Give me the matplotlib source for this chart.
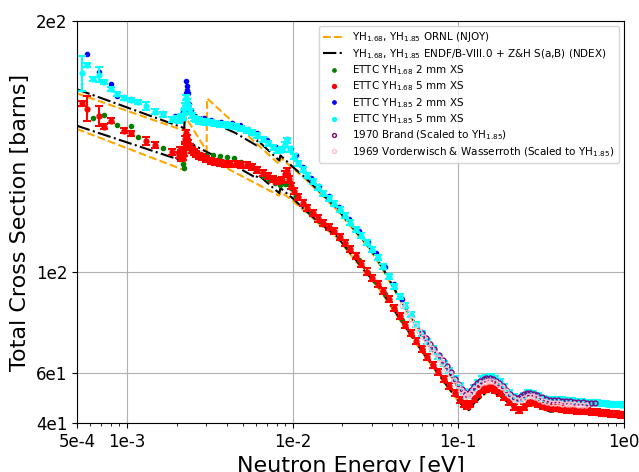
import matplotlib
matplotlib.use("Agg")
import matplotlib.pyplot as plt

# ---------------- data ----------------
ornl185_E = [5e-4, 2.23e-3, 2.26e-3, 3.03e-3, 3.05e-3, 8.3e-3, 8.5e-3, 1.0e-2, 1.2e-2, 1.46e-2,
             1.84e-2, 2.43e-2, 2.93e-2, 3.51e-2, 4.44e-2, 5.1e-2, 6.75e-2, 8.5e-2, 1.0e-1, 1.12e-1,
             1.25e-1, 1.55e-1, 1.85e-1, 2.3e-1, 2.7e-1, 3.4e-1, 4.5e-1, 6.5e-1, 1.0]
ornl185_S = [171.2, 156.3, 161.8, 148.3, 169.2, 143.0, 145.5, 141.5, 137.0, 131.5,
             125.0, 115.5, 109.0, 101.0, 89.0, 82.5, 70.5, 61.0, 54.0, 49.5,
             54.0, 57.5, 54.5, 48.8, 51.7, 48.6, 48.6, 47.8, 46.8]

ornl168_E = [5e-4, 2.23e-3, 2.26e-3, 4.4e-3, 8.3e-3, 8.5e-3, 1.0e-2, 1.2e-2, 1.46e-2, 1.84e-2,
             2.65e-2, 3.36e-2, 4.44e-2, 5.86e-2, 8.5e-2, 1.02e-1, 1.14e-1, 1.25e-1, 1.55e-1, 1.85e-1,
             2.35e-1, 2.7e-1, 3.6e-1, 4.5e-1, 6.5e-1, 1.0]
ornl168_S = [157.0, 140.6, 150.5, 140.0, 130.5, 132.0, 128.5, 124.0, 119.0, 114.0,
             101.0, 93.0, 81.0, 69.5, 54.8, 48.0, 44.8, 47.8, 53.2, 49.8,
             44.8, 47.3, 44.6, 44.9, 44.0, 42.9]

endf185_E = [5e-4, 2.09e-3, 2.22e-3, 2.24e-3, 3.0e-3, 4.5e-3, 6.05e-3, 6.15e-3, 8.3e-3, 8.45e-3,
             1.0e-2, 1.2e-2, 1.46e-2, 1.84e-2, 2.43e-2, 2.93e-2, 3.51e-2, 4.44e-2, 5.1e-2, 6.75e-2,
             8.5e-2, 1.0e-1, 1.12e-1, 1.25e-1, 1.55e-1, 1.85e-1, 2.3e-1, 2.7e-1, 3.4e-1, 4.5e-1,
             6.5e-1, 1.0]
endf185_S = [172.8, 158.0, 157.3, 164.5, 160.8, 155.5, 150.5, 152.5, 144.5, 146.5,
             142.0, 137.5, 132.0, 125.5, 116.0, 109.5, 101.5, 89.5, 83.0, 71.0,
             61.5, 54.5, 50.0, 54.5, 58.0, 54.8, 49.0, 52.0, 48.8, 48.8,
             47.9, 47.0]

endf168_E = [5e-4, 2.09e-3, 2.22e-3, 2.24e-3, 2.87e-3, 4.59e-3, 6.05e-3, 6.15e-3, 8.3e-3, 8.45e-3,
             1.0e-2, 1.2e-2, 1.46e-2, 1.84e-2, 2.65e-2, 3.36e-2, 4.44e-2, 5.86e-2, 8.5e-2, 1.02e-1,
             1.14e-1, 1.25e-1, 1.55e-1, 1.85e-1, 2.35e-1, 2.7e-1, 3.6e-1, 4.5e-1, 6.5e-1, 1.0]
endf168_S = [158.3, 144.7, 144.2, 152.6, 148.7, 142.0, 137.5, 139.0, 131.5, 133.5,
             129.5, 124.5, 119.5, 114.5, 101.5, 93.5, 81.5, 69.8, 55.0, 48.2,
             44.6, 48.0, 53.5, 50.0, 44.3, 47.5, 44.5, 45.0, 44.2, 43.0]

# ETTC YH1.68 2 mm
g2_E = [6.26e-4, 7.3e-4, 8.67e-4, 9.59e-4, 1.06e-3, 1.17e-3, 1.66e-3, 2.05e-3, 2.1e-3, 2.15e-3,
        2.19e-3, 2.21e-3, 2.24e-3, 2.27e-3, 2.30e-3, 2.34e-3, 2.4e-3, 2.5e-3, 2.65e-3, 2.8e-3,
        3.0e-3, 3.3e-3, 3.64e-3, 4.0e-3, 4.4e-3, 4.9e-3, 5.4e-3, 6.0e-3, 6.6e-3, 7.2e-3,
        7.8e-3, 8.4e-3, 9.0e-3, 9.4e-3, 9.8e-3, 1.05e-2, 1.15e-2, 1.3e-2, 1.46e-2, 1.65e-2,
        1.9e-2, 2.2e-2, 2.5e-2, 2.85e-2, 3.2e-2, 3.6e-2, 4.1e-2, 4.6e-2, 5.2e-2, 6.0e-2,
        7.0e-2, 8.15e-2, 9.5e-2, 1.08e-1, 1.13e-1, 1.24e-1, 1.39e-1, 1.57e-1, 1.78e-1, 2.03e-1,
        2.32e-1, 2.65e-1, 3.03e-1, 3.47e-1, 4.25e-1, 5.21e-1, 6.39e-1, 7.83e-1, 9.6e-1]
g2_S = [161.5, 162.6, 158.6, 156.8, 158.3, 154.0, 149.3, 147.0, 145.0, 147.8,
        143.0, 141.5, 149.0, 152.8, 151.0, 150.0, 149.2, 148.5, 147.8, 147.2,
        146.8, 146.5, 146.4, 146.0, 145.5, 144.0, 142.5, 140.6, 138.5, 136.8,
        135.5, 134.7, 135.0, 135.2, 133.5, 130.5, 127.2, 123.5, 120.5, 117.6,
        113.8, 109.5, 105.0, 99.8, 96.2, 91.5, 85.5, 80.8, 75.5, 69.3,
        63.0, 57.3, 51.7, 47.6, 47.0, 49.8, 53.3, 54.0, 52.2, 48.4,
        45.6, 48.0, 47.8, 46.6, 46.0, 45.3, 44.9, 44.5, 44.1]

# ETTC YH1.68 5 mm
r5_E = [5.33e-4, 5.75e-4, 6.78e-4, 7.3e-4, 7.97e-4, 9.59e-4, 1.06e-3, 1.30e-3, 1.48e-3, 1.86e-3,
        2.06e-3, 2.09e-3, 2.11e-3, 2.13e-3, 2.15e-3, 2.17e-3, 2.19e-3, 2.21e-3, 2.23e-3, 2.25e-3,
        2.28e-3, 2.31e-3, 2.35e-3, 2.40e-3, 2.46e-3, 2.53e-3, 2.62e-3, 2.72e-3, 2.85e-3, 3.0e-3,
        3.2e-3, 3.4e-3, 3.65e-3, 3.9e-3, 4.2e-3, 4.55e-3, 4.9e-3, 5.3e-3, 5.7e-3, 6.1e-3,
        6.6e-3, 7.1e-3, 7.6e-3, 8.1e-3, 8.6e-3, 9.0e-3, 9.2e-3, 9.5e-3, 9.8e-3, 1.02e-2,
        1.08e-2, 1.15e-2, 1.23e-2, 1.32e-2, 1.42e-2, 1.53e-2, 1.65e-2, 1.78e-2, 1.92e-2, 2.07e-2,
        2.23e-2, 2.41e-2, 2.6e-2, 2.8e-2, 3.02e-2, 3.26e-2, 3.52e-2, 3.8e-2, 4.1e-2, 4.43e-2,
        4.78e-2, 5.16e-2, 5.57e-2, 6.0e-2, 6.5e-2, 7.0e-2, 7.55e-2, 8.15e-2, 8.8e-2, 9.5e-2,
        1.02e-1, 1.08e-1, 1.13e-1, 1.18e-1, 1.24e-1, 1.31e-1, 1.39e-1, 1.48e-1, 1.57e-1, 1.67e-1,
        1.78e-1, 1.9e-1, 2.03e-1, 2.17e-1, 2.32e-1, 2.48e-1, 2.65e-1, 2.83e-1, 3.03e-1, 3.24e-1,
        3.47e-1, 3.71e-1, 3.97e-1, 4.25e-1, 4.55e-1, 4.87e-1, 5.21e-1, 5.58e-1, 5.97e-1, 6.39e-1,
        6.84e-1, 7.32e-1, 7.83e-1, 8.38e-1, 8.97e-1, 9.6e-1, 1.0]
r5_S = [167.2, 165.1, 162.2, 158.0, 160.3, 156.3, 155.3, 152.2, 150.6, 148.0,
        146.5, 148.5, 145.5, 147.5, 146.0, 148.8, 145.8, 147.5, 150.0, 153.0,
        155.3, 153.5, 151.5, 150.0, 148.8, 147.8, 147.0, 146.4, 145.8, 145.0,
        144.4, 143.8, 143.3, 143.1, 143.0, 142.9, 142.8, 142.6, 141.8, 140.8,
        139.5, 138.4, 137.2, 136.3, 136.8, 139.0, 140.2, 137.0, 134.2, 132.2,
        129.8, 127.6, 125.5, 123.4, 121.4, 119.7, 118.0, 116.3, 114.2, 111.8,
        109.2, 106.4, 103.2, 100.3, 97.7, 95.2, 92.5, 89.3, 85.8, 82.4,
        79.2, 76.0, 72.6, 69.5, 66.2, 63.2, 60.2, 57.5, 54.8, 51.8,
        49.2, 47.5, 46.8, 47.6, 49.5, 51.5, 53.0, 53.7, 53.8, 53.2,
        52.0, 50.3, 48.2, 46.2, 45.2, 46.2, 47.8, 48.2, 47.5, 46.8,
        46.3, 46.0, 45.9, 45.6, 45.2, 45.0, 44.9, 44.8, 44.7, 44.5,
        44.3, 44.1, 43.9, 43.7, 43.5, 43.3, 43.2]
r5_err = [1.0, 5.0, 4.0, 1.0, 1.0, 1.0, 1.0, 1.5] + [1.2] * (len(r5_S) - 8)

# ETTC YH1.85 2 mm
b2_E = [5.75e-4, 6.78e-4, 7.97e-4, 8.67e-4, 9.59e-4, 1.06e-3, 1.66e-3, 1.95e-3, 2.08e-3, 2.14e-3,
        2.19e-3, 2.23e-3, 2.26e-3, 2.27e-3, 2.29e-3, 2.31e-3, 2.34e-3, 2.38e-3, 2.44e-3, 2.55e-3,
        2.7e-3, 2.9e-3, 3.2e-3, 3.7e-3, 4.3e-3, 4.8e-3, 5.4e-3, 6.1e-3, 7.0e-3, 7.9e-3,
        8.6e-3, 9.2e-3, 9.8e-3, 1.05e-2, 1.15e-2, 1.3e-2, 1.45e-2, 1.65e-2, 1.9e-2, 2.2e-2,
        2.5e-2, 2.85e-2, 3.2e-2, 3.6e-2, 4.1e-2, 4.6e-2, 5.2e-2, 6.0e-2, 7.0e-2, 8.15e-2,
        9.5e-2, 1.08e-1, 1.13e-1, 1.24e-1, 1.39e-1, 1.57e-1, 1.78e-1, 2.03e-1, 2.32e-1, 2.65e-1,
        3.03e-1, 3.47e-1, 4.25e-1, 5.21e-1, 6.39e-1, 7.83e-1, 9.6e-1]
b2_S = [186.9, 179.8, 174.9, 170.3, 169.9, 169.0, 163.5, 162.0, 161.0, 162.8,
        163.9, 166.0, 171.2, 176.2, 174.1, 172.5, 171.2, 167.0, 164.5, 162.3,
        161.0, 161.3, 160.5, 160.0, 159.3, 158.5, 157.0, 155.6, 152.5, 149.8,
        149.5, 153.0, 149.5, 146.5, 142.0, 137.5, 134.5, 130.5, 126.0, 121.0,
        116.5, 112.0, 107.5, 102.0, 95.5, 89.5, 83.0, 76.3, 70.0, 64.0,
        58.0, 52.8, 51.3, 54.5, 57.8, 58.7, 56.8, 52.5, 50.0, 52.5,
        51.0, 49.4, 49.5, 48.8, 48.3, 47.9, 47.5]

# ETTC YH1.85 5 mm
c5_E = [5.33e-4, 5.75e-4, 6.26e-4, 6.78e-4, 7.3e-4, 7.97e-4, 8.67e-4, 9.59e-4, 1.06e-3, 1.17e-3,
        1.30e-3, 1.48e-3, 1.66e-3, 1.86e-3, 2.00e-3, 2.06e-3, 2.12e-3, 2.17e-3, 2.21e-3, 2.25e-3,
        2.28e-3, 2.31e-3, 2.35e-3, 2.40e-3, 2.46e-3, 2.53e-3, 2.62e-3, 2.72e-3, 2.85e-3, 3.0e-3,
        3.2e-3, 3.4e-3, 3.65e-3, 3.9e-3, 4.2e-3, 4.55e-3, 4.9e-3, 5.3e-3, 5.7e-3, 6.1e-3,
        6.6e-3, 7.1e-3, 7.6e-3, 8.1e-3, 8.6e-3, 9.0e-3, 9.3e-3, 9.7e-3, 1.02e-2, 1.08e-2,
        1.15e-2, 1.23e-2, 1.32e-2, 1.42e-2, 1.53e-2, 1.65e-2, 1.78e-2, 1.92e-2, 2.07e-2, 2.23e-2,
        2.41e-2, 2.6e-2, 2.8e-2, 3.02e-2, 3.26e-2, 3.52e-2, 3.8e-2, 4.1e-2, 4.43e-2, 4.78e-2,
        5.16e-2, 5.57e-2, 6.0e-2, 6.5e-2, 7.0e-2, 7.55e-2, 8.15e-2, 8.8e-2, 9.5e-2, 1.02e-1,
        1.08e-1, 1.13e-1, 1.18e-1, 1.24e-1, 1.31e-1, 1.39e-1, 1.48e-1, 1.57e-1, 1.67e-1, 1.78e-1,
        1.9e-1, 2.03e-1, 2.17e-1, 2.32e-1, 2.48e-1, 2.65e-1, 2.83e-1, 3.03e-1, 3.24e-1, 3.47e-1,
        3.71e-1, 3.97e-1, 4.25e-1, 4.55e-1, 4.87e-1, 5.21e-1, 5.58e-1, 5.97e-1, 6.39e-1, 6.84e-1,
        7.32e-1, 7.83e-1, 8.38e-1, 8.97e-1, 9.6e-1, 1.0]
c5_S = [179.2, 182.5, 176.8, 178.6, 175.6, 172.9, 171.0, 169.5, 168.6, 167.9,
        166.2, 163.9, 162.8, 160.8, 161.2, 160.5, 162.0, 161.5, 163.5, 166.5,
        169.5, 168.0, 165.5, 163.8, 162.5, 161.3, 160.8, 160.2, 160.0, 159.8,
        159.6, 159.3, 159.0, 158.7, 158.4, 158.0, 157.3, 156.5, 155.6, 154.6,
        153.0, 151.4, 149.8, 148.6, 148.8, 150.8, 152.5, 149.0, 146.0, 143.4,
        140.8, 138.5, 136.2, 133.6, 131.5, 129.3, 127.2, 124.9, 122.4, 119.8,
        117.1, 114.5, 111.8, 108.9, 105.8, 102.1, 98.4, 94.5, 90.4, 86.6,
        83.0, 79.3, 75.8, 72.6, 69.6, 66.6, 63.8, 61.0, 57.8, 55.0,
        52.6, 51.1, 52.0, 54.2, 56.2, 57.6, 58.3, 58.4, 57.8, 56.5,
        54.5, 52.3, 50.6, 49.8, 50.8, 52.3, 51.9, 50.8, 49.8, 49.2,
        49.3, 49.4, 49.3, 49.0, 48.8, 48.6, 48.5, 48.3, 48.1, 48.0,
        47.8, 47.7, 47.5, 47.4, 47.3, 47.2]
c5_err = [7.0, 0.8, 0.8, 3.0, 0.8, 0.8, 0.8, 0.8, 0.8, 0.8, 1.5] + [1.0] * (len(c5_S) - 11)

# 1970 Brand (scaled to YH1.85)
brand_E = [6.0e-2, 6.35e-2, 6.75e-2, 7.15e-2, 7.6e-2, 8.05e-2, 8.5e-2, 9.0e-2, 9.6e-2, 1.0e-1,
           1.05e-1, 1.09e-1, 1.12e-1, 1.16e-1, 1.2e-1, 1.25e-1, 1.3e-1, 1.36e-1, 1.42e-1, 1.48e-1,
           1.55e-1, 1.62e-1, 1.7e-1, 1.77e-1, 1.85e-1, 1.95e-1, 2.05e-1, 2.17e-1, 2.3e-1, 2.4e-1,
           2.5e-1, 2.6e-1, 2.7e-1, 2.85e-1, 3.0e-1, 3.2e-1, 3.4e-1, 3.6e-1, 3.8e-1, 4.0e-1,
           4.2e-1, 4.45e-1, 4.7e-1, 5.0e-1, 5.3e-1, 5.65e-1, 6.0e-1, 6.35e-1, 6.7e-1]
brand_S = [76.0, 73.8, 71.6, 69.4, 67.2, 65.0, 62.8, 60.4, 57.4, 55.6,
           53.6, 52.2, 51.6, 52.0, 53.2, 54.6, 55.8, 56.9, 57.5, 57.9,
           57.9, 57.5, 56.9, 55.9, 54.7, 53.0, 51.6, 50.5, 50.0, 50.6,
           51.4, 52.0, 52.1, 51.7, 51.0, 50.2, 49.6, 49.3, 49.2, 49.1,
           48.9, 48.8, 48.6, 48.5, 48.3, 48.2, 48.1, 48.0, 47.9]

# 1969 Vorderwisch & Wasserroth (scaled to YH1.85)
vw_E = [4.6e-2, 4.9e-2, 5.2e-2, 5.5e-2, 5.8e-2, 6.1e-2, 6.45e-2, 6.8e-2, 7.2e-2, 7.6e-2,
        8.0e-2, 8.45e-2, 8.9e-2, 9.4e-2, 9.9e-2, 1.04e-1, 1.08e-1, 1.12e-1, 1.16e-1, 1.2e-1,
        1.25e-1, 1.31e-1, 1.37e-1, 1.44e-1, 1.51e-1, 1.58e-1, 1.66e-1, 1.74e-1, 1.83e-1, 1.93e-1,
        2.03e-1, 2.14e-1, 2.26e-1, 2.38e-1, 2.5e-1, 2.63e-1, 2.77e-1, 2.92e-1, 3.08e-1, 3.25e-1,
        3.43e-1, 3.62e-1, 3.82e-1, 4.03e-1, 4.25e-1, 4.5e-1, 4.75e-1, 5.0e-1, 5.3e-1, 5.6e-1,
        5.9e-1]
vw_S = [87.0, 84.0, 81.5, 79.0, 76.5, 74.3, 72.0, 69.9, 67.8, 65.8,
        63.8, 61.6, 59.5, 57.3, 55.2, 53.3, 51.8, 50.8, 51.0, 52.0,
        53.4, 54.8, 55.8, 56.5, 56.8, 56.7, 56.2, 55.4, 54.2, 52.6,
        51.2, 50.0, 49.2, 49.3, 50.0, 50.6, 50.7, 50.2, 49.5, 48.8,
        48.4, 48.1, 47.9, 47.8, 47.7, 47.6, 47.5, 47.4, 47.3, 47.2,
        47.1]

yticks = [40, 60, 100, 200]
ytick_labels = ["4e1", "6e1", "1e2", "2e2"]
xticks = [5e-4, 1e-3, 1e-2, 1e-1, 1.0]
xtick_labels = ["5e-4", "1e-3", "1e-2", "1e-1", "1e0"]

# ---------------- plot ----------------
fig = plt.figure(figsize=(6.39, 4.72), dpi=100)
ax = fig.add_axes([0.1205, 0.1038, 0.856, 0.8517])

ax.plot(ornl185_E, ornl185_S, '--', color='orange', lw=1.5,
        label=r'YH$_{1.68}$, YH$_{1.85}$ ORNL (NJOY)')
ax.plot(ornl168_E, ornl168_S, '--', color='orange', lw=1.5)
ax.plot(endf185_E, endf185_S, '-.', color='black', lw=1.5,
        label=r'YH$_{1.68}$, YH$_{1.85}$ ENDF/B-VIII.0 + Z&H S(a,B) (NDEX)')
ax.plot(endf168_E, endf168_S, '-.', color='black', lw=1.5)

ax.plot(g2_E, g2_S, 'o', color='green', ms=3, ls='none', label=r'ETTC YH$_{1.68}$ 2 mm XS')
ax.errorbar(r5_E, r5_S, yerr=r5_err, fmt='none', ecolor='red', elinewidth=1.5,
            capsize=3, capthick=1.5)
ax.plot(r5_E, r5_S, 'o', color='red', ms=3.5, ls='none', label=r'ETTC YH$_{1.68}$ 5 mm XS')
ax.plot(b2_E, b2_S, 'o', color='blue', ms=3, ls='none', label=r'ETTC YH$_{1.85}$ 2 mm XS')
ax.errorbar(c5_E, c5_S, yerr=c5_err, fmt='none', ecolor='cyan', elinewidth=1.5,
            capsize=3, capthick=1.5)
ax.plot(c5_E, c5_S, 'o', color='cyan', ms=3.5, ls='none', label=r'ETTC YH$_{1.85}$ 5 mm XS')
ax.plot(brand_E, brand_S, 'o', mfc='none', mec='purple', ms=3.5, mew=1, ls='none',
        label=r'1970 Brand (Scaled to YH$_{1.85}$)')
ax.plot(vw_E, vw_S, 'o', mfc='none', mec='pink', ms=3.5, mew=1, ls='none',
        label=r'1969 Vorderwisch & Wasserroth (Scaled to YH$_{1.85}$)')

ax.set_xscale('log')
ax.set_xlim(5e-4, 1.0)
ax.set_ylim(40, 200)
ax.set_xticks(xticks)
ax.set_xticklabels(xtick_labels)
ax.set_yticks(yticks)
ax.set_yticklabels(ytick_labels)
ax.tick_params(axis='both', which='major', labelsize=12)
ax.grid(True, which='major')
ax.set_xlabel('Neutron Energy [eV]', fontsize=16)
ax.set_ylabel('Total Cross Section [barns]', fontsize=16)
ax.legend(loc='upper right', fontsize=7.5, labelspacing=0.25, markerscale=0.8)

fig.savefig('out.png', dpi=100)
